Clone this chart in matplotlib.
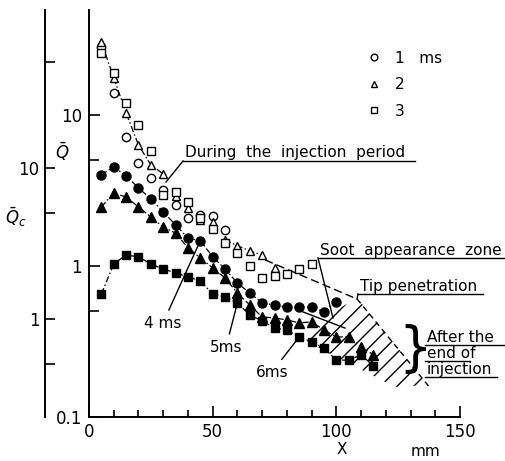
import matplotlib
matplotlib.use('Agg')
import matplotlib.pyplot as plt
from matplotlib.lines import Line2D

# distance from nozzle X (mm) and normalised intensity
x_1ms = [5, 10, 15, 20, 25, 30, 35, 40, 45, 50, 55]
q_1ms = [28.2, 14.0, 7.15, 4.81, 3.83, 3.19, 2.54, 2.08, 2.18, 2.14, 1.73]

x_2ms = [5, 10, 15, 20, 25, 30, 35, 40, 45, 50, 55, 60, 65, 70, 75]
q_2ms = [30.4, 17.6, 10.3, 6.33, 4.67, 4.07, 2.91, 2.42, 2.02, 1.96, 1.49, 1.36, 1.26, 1.18, 0.97]

x_3ms = [5, 10, 15, 20, 25, 30, 35, 40, 45, 50, 55, 60, 65, 70, 75, 80, 85, 90]
q_3ms = [25.7, 19.0, 12.0, 8.59, 5.78, 2.95, 3.09, 2.65, 2.08, 1.76, 1.42, 1.22, 1.0, 0.833,
         0.859, 0.885, 0.955, 1.03]

x_4ms = [5, 10, 15, 20, 25, 30, 35, 40, 45, 50, 55, 60, 65, 70, 75, 80, 85, 90, 95, 100]
q_4ms = [4.01, 4.53, 3.94, 3.29, 2.78, 2.28, 1.87, 1.53, 1.47, 1.15, 0.955, 0.771, 0.662, 0.569,
         0.552, 0.535, 0.535, 0.535, 0.496, 0.578]

x_5ms = [5, 10, 15, 20, 25, 30, 35, 40, 45, 50, 55, 60, 65, 70, 75, 80, 85, 90, 95, 100,
         105, 110, 115]
q_5ms = [2.46, 3.04, 2.86, 2.46, 2.11, 1.81, 1.65, 1.32, 1.13, 0.97, 0.833, 0.662, 0.552, 0.459,
         0.453, 0.439, 0.420, 0.426, 0.377, 0.339, 0.339, 0.291, 0.258]

x_6ms = [5, 10, 15, 20, 25, 30, 35, 40, 45, 50, 55, 60, 65, 70, 75, 80, 85, 90, 95, 100,
         105, 110, 115]
q_6ms = [0.653, 1.03, 1.18, 1.15, 1.03, 0.955, 0.899, 0.846, 0.796, 0.653, 0.623, 0.569, 0.473,
         0.433, 0.388, 0.377, 0.339, 0.314, 0.286, 0.238, 0.238, 0.258, 0.218]

# "after the end of injection" zone and its boundaries
zone_x = [85.3, 97.5, 108.8, 137.1, 123.7]
zone_q = [0.334, 0.496, 0.604, 0.163, 0.158]
tip_x = [108.4, 137.9]
tip_q = [0.604, 0.156]
soot_x = [71.2, 108.4]
soot_q = [1.096, 0.604]
soot2_x = [84.5, 103.5]
soot2_q = [0.511, 0.388]

W, H = 505, 461
fig = plt.figure(figsize=(W / 100, H / 100), dpi=100)


def fx(px):
    return px / W


def fy(py):
    return 1 - py / H


rect = [fx(89), fy(417), fx(460) - fx(89), fy(10) - fy(417)]

# outer axis (shifted scale)
ax2 = fig.add_axes(rect)
ax2.patch.set_visible(False)
for s in ['top', 'right', 'bottom']:
    ax2.spines[s].set_visible(False)
ax2.spines['left'].set_position(('outward', 44 * 0.72))
ax2.spines['left'].set_linewidth(1.4)
ax2.xaxis.set_visible(False)
ax2.set_yscale('log')
k = 10 ** (53 / 151)
ax2.set_ylim(0.1 * k, 49.5 * k)
ax2.set_yticks([1, 10])
ax2.set_yticklabels(['1', '10'])
ax2.set_yticks([0.5, 5, 50], minor=True)
ax2.yaxis.set_minor_formatter(plt.NullFormatter())
ax2.tick_params(which='both', direction='in', width=1.2, labelsize=12, pad=4)
ax2.tick_params(which='major', length=7)
ax2.tick_params(which='minor', length=7)

ax = fig.add_axes(rect)
ax.patch.set_visible(False)
ax.spines['top'].set_visible(False)
ax.spines['right'].set_visible(False)
ax.spines['left'].set_linewidth(1.4)
ax.spines['bottom'].set_linewidth(1.4)
ax.set_xlim(0, 150)
ax.set_yscale('log')
ax.set_ylim(0.1, 49.5)
ax.set_xticks([0, 50, 100, 150])
ax.set_xticks(range(10, 150, 10), minor=True)
ax.set_yticks([0.1, 1, 10])
ax.set_yticklabels(['0.1', '1', '10'])
ax.set_yticks([0.5, 5], minor=True)
ax.yaxis.set_minor_formatter(plt.NullFormatter())
ax.tick_params(which='both', direction='in', width=1.2, labelsize=12, pad=5)
ax.tick_params(axis='x', pad=4)
ax.tick_params(which='major', length=8)
ax.tick_params(which='minor', length=5)
ax.tick_params(axis='y', which='minor', length=7)

dashdot = (0, (5, 2, 1.2, 2))

# hatched zone
ax.fill(zone_x, zone_q, facecolor='none', edgecolor='k', hatch='//', linewidth=0, zorder=1)
ax.plot(tip_x, tip_q, ls=(0, (4, 3)), color='k', lw=1.0)
ax.plot(soot_x, soot_q, ls=(0, (6, 3)), color='k', lw=1.0)
ax.plot(soot2_x, soot2_q, ls='-', color='k', lw=1.0)

# filled series (4, 5, 6 ms) with dash-dot lines
ax.plot(x_4ms, q_4ms, ls=dashdot, color='k', lw=0.9, marker='o', ms=6.5, mfc='k', mec='k', zorder=3)
ax.plot(x_5ms, q_5ms, ls=dashdot, color='k', lw=0.9, marker='^', ms=6.5, mfc='k', mec='k', zorder=3)
ax.plot(x_6ms, q_6ms, ls=dashdot, color='k', lw=0.9, marker='s', ms=6, mfc='k', mec='k', zorder=3)

# envelope line for the injection period
ax.plot(x_2ms[:6], q_2ms[:6], ls=dashdot, color='k', lw=0.9, zorder=2)
ax.plot(x_2ms[10:14], q_2ms[10:14], ls=dashdot, color='k', lw=0.9, zorder=2)

# hollow series (1, 2, 3 ms)
h1, = ax.plot(x_1ms, q_1ms, ls='none', marker='o', ms=6, mfc='white', mec='k', mew=1.0, zorder=4)
h2, = ax.plot(x_2ms, q_2ms, ls='none', marker='^', ms=6, mfc='white', mec='k', mew=1.0, zorder=4)
h3, = ax.plot(x_3ms, q_3ms, ls='none', marker='s', ms=6, mfc='white', mec='k', mew=1.0, zorder=4)

leg = ax.legend([h1, h2, h3], ['1   ms', '2', '3'], loc='upper left',
                bbox_to_anchor=(fx(354), fy(37)), bbox_transform=fig.transFigure,
                frameon=False, fontsize=11, handlelength=0.8, handletextpad=1.0,
                labelspacing=0.75, markerscale=0.8)

# axis labels
fig.text(fx(342), fy(449), 'X', fontsize=11, ha='center', va='center')
fig.text(fx(425), fy(451), 'mm', fontsize=11, ha='center', va='center')
fig.text(fx(62), fy(152), r'$\bar{Q}$', fontsize=12, ha='center', va='center')
fig.text(fx(16), fy(217), r'$\bar{Q}_c$', fontsize=12, ha='center', va='center')


def fline(p, q, **kw):
    fig.add_artist(Line2D([fx(p[0]), fx(q[0])], [fy(p[1]), fy(q[1])], color='k', lw=1.0, **kw))


def label(px, py, s, ul_end=None):
    fig.text(fx(px), fy(py), s, fontsize=11, ha='left', va='center')
    if ul_end is not None:
        fline((px - 2, py + 8), (ul_end, py + 8))


label(185, 153, 'During  the  injection  period', 415)
fline((183, 161), (166, 182))
label(320, 250, 'Soot  appearance  zone', 505)
fline((318, 258), (333, 318))
label(360, 286, 'Tip penetration', 483)
fline((358, 294), (357, 299))
label(427, 337, 'After the', 505)
label(427, 353, 'end of', 470)
label(427, 369, 'injection', 497)
fig.text(fx(415), fy(350), '}', fontsize=38, ha='center', va='center')

# time labels with leaders
ax.annotate('4 ms', xy=(x_4ms[8], q_4ms[8]), xytext=(163, H - 323), textcoords='figure pixels',
            fontsize=11, ha='center', va='center', arrowprops=dict(arrowstyle='-', lw=1.0, shrinkB=4))
ax.annotate('5ms', xy=(x_6ms[11], q_6ms[11]), xytext=(226, H - 347), textcoords='figure pixels',
            fontsize=11, ha='center', va='center', arrowprops=dict(arrowstyle='-', lw=1.0, shrinkB=4))
ax.annotate('6ms', xy=(x_6ms[16], q_6ms[16]), xytext=(272, H - 372), textcoords='figure pixels',
            fontsize=11, ha='center', va='center', arrowprops=dict(arrowstyle='-', lw=1.0, shrinkB=4))

fig.savefig('out.png', dpi=100)
